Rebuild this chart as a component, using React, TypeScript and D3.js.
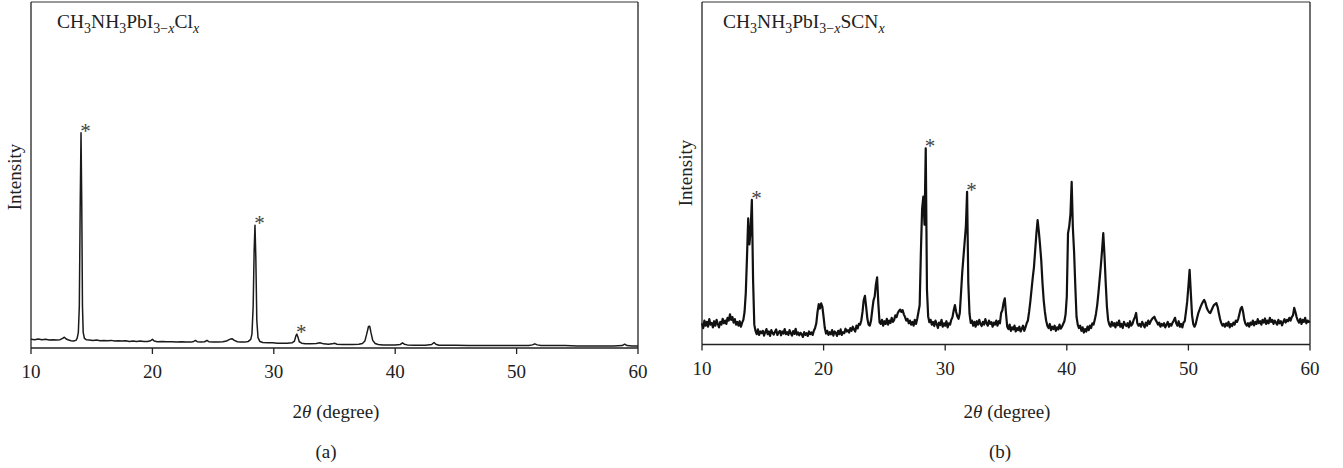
import React from "react";
import * as d3 from "d3";

// ---------- Data ----------
const xTicks = [10, 20, 30, 40, 50, 60];

// Panel (a): CH3NH3PbI3-xClx, [2θ, intensity]
const patternA: [number, number][] = [
  [10.0, 25], [10.3, 24], [10.6, 26], [10.9, 24], [11.2, 25], [11.5, 23], [11.8, 24], [12.1, 23], [12.4, 24],
  [12.6, 28], [12.75, 31], [12.9, 26], [13.1, 23], [13.3, 21], [13.5, 20], [13.7, 22], [13.8, 28], [13.9, 45],
  [13.98, 120], [14.05, 400], [14.12, 622], [14.18, 420], [14.24, 120], [14.3, 45], [14.4, 28], [14.55, 24],
  [14.8, 23], [15.1, 22], [15.4, 23], [15.7, 21], [16.0, 22], [16.3, 21], [16.6, 22], [16.9, 20], [17.2, 21],
  [17.5, 20], [17.8, 21], [18.1, 19], [18.4, 20], [18.7, 19], [19.0, 20], [19.3, 19], [19.6, 19], [19.85, 21],
  [20.0, 25], [20.15, 20], [20.4, 18], [20.8, 19], [21.2, 18], [21.6, 18], [22.0, 17], [22.4, 18], [22.8, 17],
  [23.2, 17], [23.4, 19], [23.55, 22], [23.7, 18], [24.0, 17], [24.3, 18], [24.5, 22], [24.65, 18], [25.0, 17],
  [25.4, 17], [25.8, 18], [26.1, 20], [26.35, 25], [26.55, 27], [26.75, 22], [27.0, 18], [27.3, 17], [27.6, 17],
  [27.9, 19], [28.1, 25], [28.2, 40], [28.3, 120], [28.38, 280], [28.45, 355], [28.52, 260], [28.6, 80],
  [28.7, 30], [28.85, 19], [29.1, 16], [29.5, 15], [29.9, 15], [30.3, 14], [30.7, 14], [31.1, 14], [31.5, 15],
  [31.7, 20], [31.82, 35], [31.9, 40], [32.0, 30], [32.1, 18], [32.3, 14], [32.6, 12], [33.0, 12], [33.5, 13],
  [33.8, 15], [34.1, 12], [34.5, 11], [34.8, 12], [35.0, 14], [35.2, 11], [35.6, 10], [36.0, 10], [36.5, 10],
  [37.0, 11], [37.3, 13], [37.5, 20], [37.65, 40], [37.8, 62], [37.9, 63], [38.0, 45], [38.15, 22], [38.35, 13],
  [38.6, 10], [39.0, 9], [39.5, 9], [40.0, 9], [40.4, 10], [40.6, 15], [40.75, 11], [41.0, 9], [41.5, 8],
  [42.0, 8], [42.5, 8], [43.0, 10], [43.2, 16], [43.35, 11], [43.6, 8], [44.0, 8], [45, 8], [46, 7], [47, 7],
  [48, 7], [49, 7], [50, 7], [51, 7], [51.3, 9], [51.5, 12], [51.7, 9], [52, 7], [53, 7], [54, 7], [55, 6],
  [56, 6], [57, 6], [58, 6], [58.7, 7], [58.9, 11], [59.1, 7], [59.5, 6], [60, 6],
];

// Panel (b): CH3NH3PbI3-xSCNx, intensity sampled every 0.1° from 10°
const thetaStartB = 10;
const thetaStepB = 0.1;
const intensityB: number[] = [
  62, 48, 70, 55, 66, 52, 74, 58, 63, 50,
  68, 55, 72, 60, 50, 66, 58, 75, 62, 70,
  60, 78, 70, 88, 72, 80, 64, 74, 58, 66,
  55, 68, 52, 64, 72, 95, 150, 255, 368, 292,
  335, 422, 190, 58, 40, 30, 44, 28, 38, 33,
  40, 26, 36, 45, 30, 38, 25, 42, 34, 29,
  37, 44, 28, 35, 40, 27, 38, 32, 45, 30,
  36, 28, 42, 33, 26, 39, 31, 46, 29, 35,
  27, 34, 30, 22, 36, 28, 33, 25, 38, 30,
  35, 28, 40, 48, 62, 95, 118, 105, 120, 110,
  80, 48, 32, 40, 28, 36, 30, 42, 26, 38,
  34, 25, 40, 30, 44, 28, 36, 33, 46, 38,
  42, 35, 48, 40, 52, 44, 38, 55, 47, 60,
  58, 70, 95, 130, 142, 110, 75, 58, 55, 70,
  100, 128, 140, 175, 196, 120, 65, 60, 72, 55,
  68, 60, 75, 58, 70, 63, 78, 66, 72, 85,
  80, 92, 98, 102, 95, 100, 88, 80, 70, 75,
  62, 70, 58, 66, 55, 72, 60, 75, 95, 115,
  270, 395, 432, 350, 573, 160, 82, 65, 72, 58,
  66, 54, 70, 60, 48, 64, 57, 72, 52, 62,
  55, 68, 50, 62, 58, 72, 80, 100, 115, 95,
  82, 75, 92, 150, 210, 255, 300, 344, 446, 180,
  90, 63, 70, 55, 66, 52, 68, 58, 72, 60,
  54, 66, 58, 74, 62, 55, 70, 60, 65, 52,
  64, 58, 70, 55, 68, 62, 92, 100, 122, 135,
  90, 52, 45, 58, 40, 50, 44, 55, 38, 48,
  42, 52, 38, 46, 55, 40, 50, 62, 70, 95,
  125, 160, 195, 226, 275, 324, 363, 330, 290, 245,
  180, 129, 95, 70, 55, 48, 60, 42, 52, 45,
  55, 40, 50, 44, 58, 46, 52, 60, 68, 88,
  140, 325, 345, 380, 475, 340, 270, 170, 81, 58,
  48, 55, 40, 50, 35, 45, 38, 52, 42, 55,
  48, 62, 58, 72, 90, 115, 150, 190, 230, 275,
  325, 260, 180, 110, 71, 58, 52, 66, 55, 62,
  50, 64, 56, 70, 52, 60, 48, 66, 58, 54,
  62, 50, 68, 55, 60, 72, 80, 92, 62, 55,
  60, 52, 66, 58, 50, 64, 55, 70, 60, 68,
  74, 78, 81, 72, 66, 58, 64, 52, 60, 55,
  62, 50, 58, 66, 52, 60, 55, 64, 70, 78,
  62, 55, 68, 52, 60, 50, 64, 68, 95, 125,
  170, 218, 150, 85, 60, 52, 60, 75, 90, 100,
  110, 118, 125, 130, 122, 108, 100, 94, 92, 100,
  108, 115, 118, 121, 110, 92, 75, 63, 55, 60,
  52, 62, 55, 66, 50, 60, 54, 64, 58, 70,
  66, 75, 90, 105, 110, 95, 72, 60, 55, 62,
  52, 64, 58, 70, 56, 66, 60, 74, 62, 68,
  58, 72, 64, 76, 60, 70, 62, 78, 66, 72,
  60, 70, 64, 58, 72, 62, 68, 56, 66, 74,
  64, 72, 68, 78, 70, 80, 85, 107, 95, 80,
  70, 64, 75, 60, 72, 66, 78, 62, 70, 66,
  68,
];

// Starred peaks [2θ, intensity]
const starsA: [number, number][] = [[14.12, 622], [28.45, 355], [31.9, 40]];
const starsB: [number, number][] = [[14.11, 422], [28.38, 573], [31.8, 446]];

// Formula pieces: [text, isSubscript, isItalic]
const formulaA: [string, boolean, boolean][] = [
  ["CH", false, false], ["3", true, false], ["NH", false, false], ["3", true, false],
  ["PbI", false, false], ["3−", true, false], ["x", true, true], ["Cl", false, false], ["x", true, true],
];
const formulaB: [string, boolean, boolean][] = [
  ["CH", false, false], ["3", true, false], ["NH", false, false], ["3", true, false],
  ["PbI", false, false], ["3−", true, false], ["x", true, true], ["SCN", false, false], ["x", true, true],
];

const FONT = "'Liberation Serif', 'Times New Roman', serif";
const SUB_SHIFT = 4.5;

function Formula({ parts }: { parts: [string, boolean, boolean][] }) {
  let prevSub = false;
  return (
    <>
      {parts.map(([t, isSub, isIt], i) => {
        const dy = isSub === prevSub ? 0 : isSub ? SUB_SHIFT : -SUB_SHIFT;
        prevSub = isSub;
        return (
          <tspan
            key={i}
            dy={dy}
            fontSize={isSub ? 14 : 19.5}
            fontStyle={isIt ? "italic" : "normal"}
          >
            {t}
          </tspan>
        );
      })}
    </>
  );
}

type PanelProps = {
  left: number; right: number; top: number; bottom: number;
  data: [number, number][];
  stars: [number, number][];
  strokeWidth: number;
  stroke: string;
  formula: [string, boolean, boolean][];
  titleX: number;
  yLabelX: number;
  yLabelY: number;
  xTitleX: number;
  xTitleY: number;
  letter: string;
  letterX: number;
  tickLabelY: number;
};

function Panel(p: PanelProps) {
  const x = d3.scaleLinear().domain([10, 60]).range([p.left, p.right]);
  const y = d3.scaleLinear().domain([0, 1000]).range([p.bottom, p.top]);
  const line = d3.line<[number, number]>().x((d) => x(d[0])).y((d) => y(d[1]));
  return (
    <g>
      <line x1={p.left} x2={p.right} y1={p.top} y2={p.top} stroke="#333" strokeWidth={1} />
      <line x1={p.left} x2={p.left} y1={p.top} y2={p.bottom} stroke="#222" strokeWidth={1.3} />
      <line x1={p.right} x2={p.right} y1={p.top} y2={p.bottom} stroke="#222" strokeWidth={1.3} />
      <line x1={p.left} x2={p.right} y1={p.bottom} y2={p.bottom} stroke="#222" strokeWidth={1.6} />
      {xTicks.map((t) => (
        <g key={t}>
          <line x1={x(t)} x2={x(t)} y1={p.bottom} y2={p.bottom + 6} stroke="#222" strokeWidth={1.3} />
          <text x={x(t)} y={p.tickLabelY} textAnchor="middle" fontFamily={FONT} fontSize={19} fill="#222">
            {t}
          </text>
        </g>
      ))}
      <path d={line(p.data) || ""} fill="none" stroke={p.stroke} strokeWidth={p.strokeWidth} strokeLinejoin="round" />
      {p.stars.map((s, i) => (
        <text key={i} x={x(s[0]) + 4.5} y={y(s[1]) + 5} textAnchor="middle" fontFamily={FONT} fontSize={21} fill="#444">
          *
        </text>
      ))}
      <text x={p.titleX} y={p.top + 26} fontFamily={FONT} fontSize={19.5} fill="#222">
        <Formula parts={p.formula} />
      </text>
      <text
        transform={`translate(${p.yLabelX},${p.yLabelY}) rotate(-90)`}
        textAnchor="middle"
        fontFamily={FONT}
        fontSize={19}
        fill="#222"
      >
        Intensity
      </text>
      <text x={p.xTitleX} y={p.xTitleY} textAnchor="middle" fontFamily={FONT} fontSize={19} fill="#222">
        2<tspan fontStyle="italic">θ</tspan> (degree)
      </text>
      <text x={p.letterX} y={458} textAnchor="middle" fontFamily={FONT} fontSize={19} fill="#222">
        {p.letter}
      </text>
    </g>
  );
}

export default function App() {
  const dataB: [number, number][] = intensityB.map((v, i) => [thetaStartB + i * thetaStepB, v]);
  return (
    <svg
      width={1343}
      height={468}
      style={{ position: "absolute", left: 0, top: 0, background: "#fff" }}
    >
      <Panel
        left={31}
        right={638}
        top={2}
        bottom={348}
        data={patternA}
        stars={starsA}
        strokeWidth={1.5}
        stroke="#1a1a1a"
        formula={formulaA}
        titleX={57}
        yLabelX={21}
        yLabelY={177}
        xTitleX={336}
        xTitleY={418}
        letter="(a)"
        letterX={326}
        tickLabelY={378}
      />
      <Panel
        left={702}
        right={1310}
        top={2}
        bottom={344.5}
        data={dataB}
        stars={starsB}
        strokeWidth={2.2}
        stroke="#111"
        formula={formulaB}
        titleX={723}
        yLabelX={692}
        yLabelY={173}
        xTitleX={1007}
        xTitleY={418}
        letter="(b)"
        letterX={1000}
        tickLabelY={375}
      />
    </svg>
  );
}
